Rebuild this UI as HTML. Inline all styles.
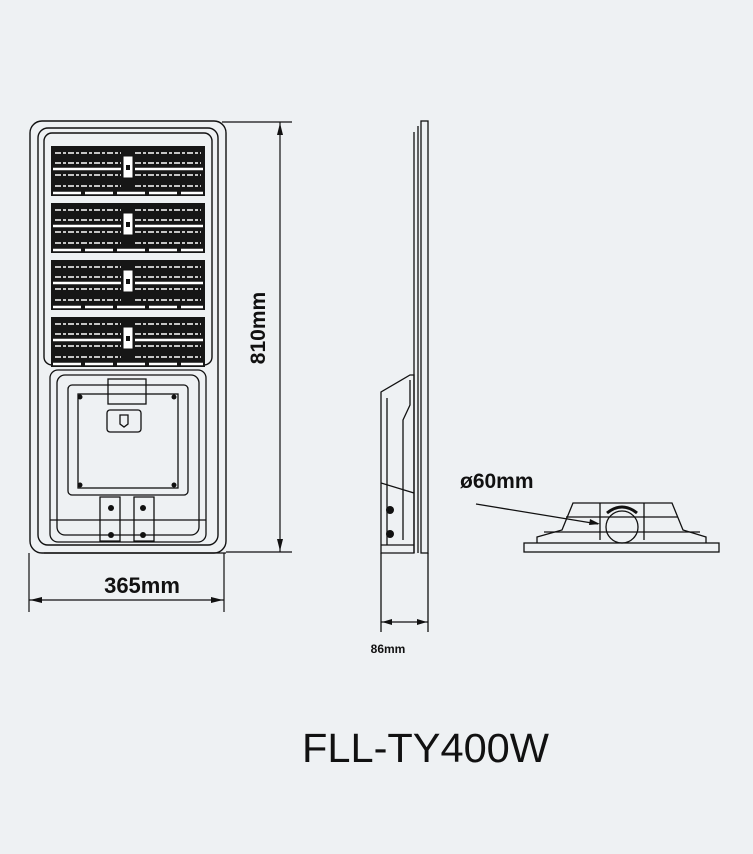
<!DOCTYPE html>
<html><head><meta charset="utf-8"><style>
html,body{margin:0;padding:0;background:#eef1f3;}
svg{display:block}
</style></head><body>
<svg width="753" height="854" viewBox="0 0 753 854" xmlns="http://www.w3.org/2000/svg">
<defs>
<g id="mod">
  <rect x="0" y="0" width="154" height="50" fill="#161616"/>
  <g stroke="#fff" stroke-width="1.6" stroke-dasharray="6 2 3 2" fill="none">
    <line x1="4" y1="7" x2="70" y2="7"/><line x1="84" y1="7" x2="150" y2="7"/>
    <line x1="4" y1="17" x2="70" y2="17"/><line x1="84" y1="17" x2="150" y2="17"/>
    <line x1="4" y1="29" x2="70" y2="29"/><line x1="84" y1="29" x2="150" y2="29"/>
    <line x1="4" y1="40" x2="70" y2="40"/><line x1="84" y1="40" x2="150" y2="40"/>
  </g>
  <g stroke="#fff" stroke-width="2.5" fill="none">
    <line x1="2" y1="23" x2="70" y2="23"/><line x1="84" y1="23" x2="152" y2="23"/>
    <line x1="2" y1="47" x2="152" y2="47" stroke-dasharray="28 4"/>
  </g>
  <rect x="72" y="10" width="10" height="22" fill="#fff" stroke="#111"/>
  <rect x="75" y="19" width="4" height="5" fill="#111"/>
</g>
</defs>
<rect width="753" height="854" fill="#eef1f3"/>

<!-- FRONT VIEW -->
<g fill="none" stroke="#111" stroke-width="1.4">
  <rect x="30" y="121" width="196" height="432" rx="12"/>
  <rect x="38" y="128" width="180" height="417" rx="10"/>
  <rect x="44" y="133" width="168" height="232" rx="8"/>
</g>
<use href="#mod" x="51" y="146"/>
<use href="#mod" x="51" y="203"/>
<use href="#mod" x="51" y="260"/>
<use href="#mod" x="51" y="317"/>
<g fill="none" stroke="#111" stroke-width="1.3">
  <rect x="50" y="370" width="156" height="172" rx="8"/>
  <rect x="57" y="375" width="142" height="160" rx="8"/>
  <rect x="68" y="385" width="120" height="110" rx="4"/>
  <rect x="78" y="394" width="100" height="94"/>
  <rect x="108" y="379" width="38" height="25"/>
  <rect x="107" y="410" width="34" height="22" rx="3"/>
  <path d="M120 415 h8 v9 l-4 3 l-4 -3 z"/>
  <path d="M100 497 h20 v44 h-20 z M134 497 h20 v44 h-20 z"/>
  <line x1="50" y1="520" x2="206" y2="520"/>
  <line x1="44" y1="553" x2="226" y2="553"/>
</g>
<g fill="#111">
  <circle cx="111" cy="508" r="3"/><circle cx="143" cy="508" r="3"/>
  <circle cx="111" cy="535" r="3"/><circle cx="143" cy="535" r="3"/>
  <circle cx="80" cy="397" r="2.5"/><circle cx="174" cy="397" r="2.5"/>
  <circle cx="80" cy="485" r="2.5"/><circle cx="174" cy="485" r="2.5"/>
</g>

<!-- 810 dim -->
<g stroke="#111" stroke-width="1.2">
  <line x1="222" y1="122" x2="292" y2="122"/>
  <line x1="226" y1="552" x2="292" y2="552"/>
  <line x1="280" y1="122" x2="280" y2="552"/>
</g>
<path d="M280 123 l-3 12 h6 z M280 551 l-3 -12 h6 z" fill="#111"/>
<text x="0" y="0" transform="translate(265,328) rotate(-90)" text-anchor="middle" font-family="Liberation Sans, sans-serif" font-weight="bold" font-size="21" fill="#111">810mm</text>

<!-- 365 dim -->
<g stroke="#111" stroke-width="1.2">
  <line x1="29" y1="553" x2="29" y2="612"/>
  <line x1="224" y1="553" x2="224" y2="612"/>
  <line x1="29" y1="600" x2="224" y2="600"/>
</g>
<path d="M30 600 l12 -3 v6 z M223 600 l-12 -3 v6 z" fill="#111"/>
<text x="142" y="593" text-anchor="middle" font-family="Liberation Sans, sans-serif" font-weight="bold" font-size="22" fill="#111">365mm</text>

<!-- SIDE VIEW -->
<g fill="none" stroke="#111" stroke-width="1.3">
  <rect x="421" y="121" width="7" height="432"/>
  <line x1="418" y1="126" x2="418" y2="553"/>
  <line x1="414" y1="132" x2="414" y2="553"/>
  <path d="M381 392 L410 375 L414 375 L414 553 L381 553 Z"/>
  <line x1="387" y1="398" x2="387" y2="545"/>
  <path d="M410 380 L410 405 L403 420 L403 540"/>
  <line x1="381" y1="483" x2="414" y2="493"/>
  <line x1="381" y1="545" x2="414" y2="545"/>
  <line x1="381" y1="553" x2="381" y2="632"/>
  <line x1="428" y1="553" x2="428" y2="632"/>
  <line x1="381" y1="622" x2="428" y2="622"/>
</g>
<g fill="#111">
  <ellipse cx="390" cy="510" rx="4" ry="4"/>
  <ellipse cx="390" cy="534" rx="4" ry="4"/>
</g>
<path d="M382 622 l10 -3 v6 z M427 622 l-10 -3 v6 z" fill="#111"/>
<text x="388" y="653" text-anchor="middle" font-family="Liberation Sans, sans-serif" font-weight="bold" font-size="12" fill="#111">86mm</text>

<!-- POLE VIEW -->
<g fill="none" stroke="#111" stroke-width="1.3">
  <rect x="524" y="543" width="195" height="9"/>
  <path d="M537 543 L537 537 L562 530 L573 503 L672 503 L683 530 L706 537 L706 543"/>
  <line x1="544" y1="532" x2="700" y2="532"/>
  <line x1="566" y1="517" x2="678" y2="517"/>
  <line x1="600" y1="503" x2="600" y2="540"/>
  <line x1="644" y1="503" x2="644" y2="540"/>
  <circle cx="622" cy="527" r="16"/>
  <line x1="476" y1="504" x2="598" y2="524"/>
</g>
<path d="M600 524 l-10 -5 l-1 6 z" fill="#111"/>
<path d="M607 513 q15 -12 30 0" fill="none" stroke="#111" stroke-width="3"/>
<text x="460" y="488" font-family="Liberation Sans, sans-serif" font-weight="bold" font-size="21" fill="#111">ø60mm</text>

<!-- TITLE -->
<text x="302" y="762" textLength="247" lengthAdjust="spacingAndGlyphs" font-family="Liberation Sans, sans-serif" font-size="41" fill="#111">FLL-TY400W</text>
</svg>
</body></html>
